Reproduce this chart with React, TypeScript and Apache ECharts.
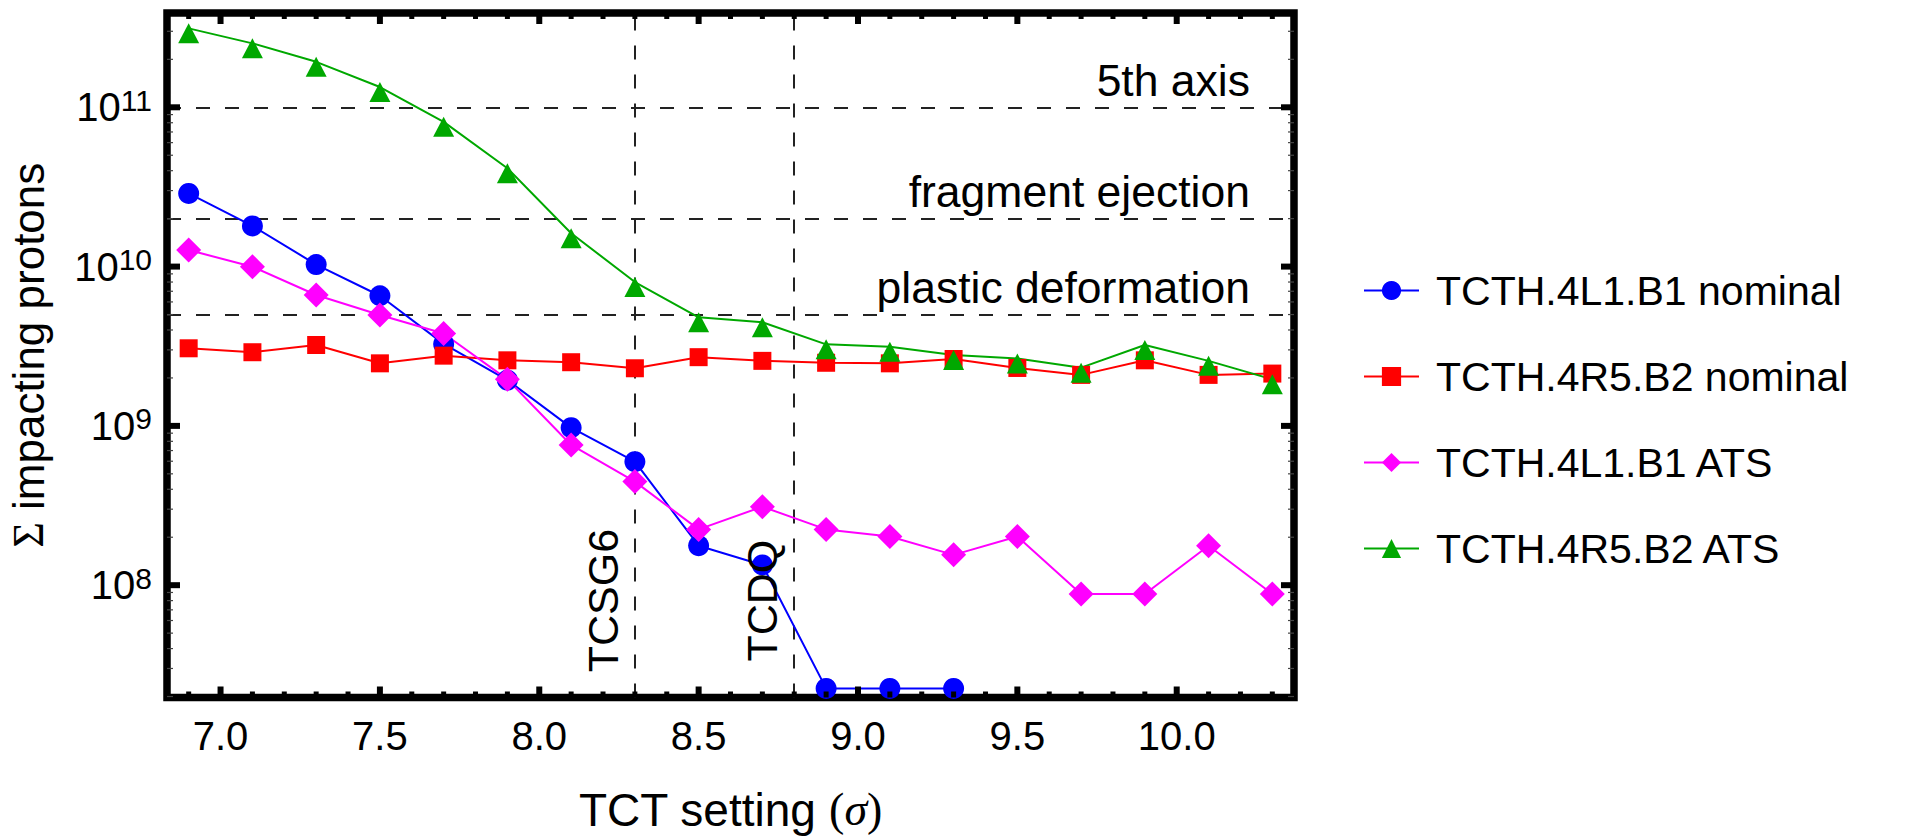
import React, { useEffect, useRef } from 'react';
import * as echarts from 'echarts';

// ---------------- data ----------------
const xSettings = [6.9, 7.1, 7.3, 7.5, 7.7, 7.9, 8.1, 8.3, 8.5, 8.7, 8.9, 9.1, 9.3, 9.5, 9.7, 9.9, 10.1, 10.3];

const b1Nominal = [2.88e10, 1.8e10, 1.03e10, 6.56e9, 3.27e9, 1.94e9, 9.75e8, 5.96e8, 1.77e8, 1.34e8, 2.25e7, 2.25e7, 2.25e7];
const b2Nominal = [3.07e9, 2.9e9, 3.22e9, 2.47e9, 2.76e9, 2.58e9, 2.51e9, 2.3e9, 2.7e9, 2.56e9, 2.49e9, 2.47e9, 2.63e9, 2.31e9, 2.09e9, 2.58e9, 2.09e9, 2.13e9];
const b1Ats = [1.27e10, 9.98e9, 6.63e9, 4.97e9, 3.8e9, 1.96e9, 7.59e8, 4.47e8, 2.24e8, 3.11e8, 2.24e8, 2.02e8, 1.55e8, 2.02e8, 8.8e7, 8.8e7, 1.77e8, 8.8e7];
const b2Ats = [3.13e11, 2.52e11, 1.93e11, 1.34e11, 8.1e10, 4.14e10, 1.62e10, 8.0e9, 4.8e9, 4.47e9, 3.25e9, 3.14e9, 2.79e9, 2.65e9, 2.32e9, 3.22e9, 2.56e9, 1.96e9];

const seriesNames = ['TCTH.4L1.B1 nominal', 'TCTH.4R5.B2 nominal', 'TCTH.4L1.B1 ATS', 'TCTH.4R5.B2 ATS'];

const thresholdValues = [1e11, 2e10, 5e9];
const thresholdLabels = ['5th axis', 'fragment ejection', 'plastic deformation'];
const collimatorSettings = [8.3, 8.8];
const collimatorLabels = ['TCSG6', 'TCDQ'];
const collimatorLabelLevel = 8e7;

const xTickLabels = [7.0, 7.5, 8.0, 8.5, 9.0, 9.5, 10.0];
const xMinorTicks = [6.9, 7.1, 7.2, 7.3, 7.4, 7.6, 7.7, 7.8, 7.9, 8.1, 8.2, 8.3, 8.4, 8.6, 8.7, 8.8, 8.9, 9.1, 9.2, 9.3, 9.4, 9.6, 9.7, 9.8, 9.9, 10.1, 10.2, 10.3];
const yTickLabels = [1e8, 1e9, 1e10, 1e11];
const yMinorMantissas = [2, 3, 4, 5, 6, 7, 8, 9];
const yMinorDecades = [7, 8, 9, 10, 11];

const X_MIN = 6.832;
const X_MAX = 10.368;
const Y_MIN = 1.972e7;
const Y_MAX = 3.908e11;

const FONT = '"Liberation Sans", Arial, Helvetica, sans-serif';
const SERIF = '"Liberation Serif", "Times New Roman", serif';

const yMinorTicks = yMinorDecades
  .flatMap((d) => yMinorMantissas.map((m) => m * Math.pow(10, d)))
  .filter((v) => v >= Y_MIN && v <= Y_MAX);

function pairs(values: number[]) {
  return values.map((v, i) => [xSettings[i], v]);
}

export default function App() {
  const ref = useRef<HTMLDivElement>(null);

  useEffect(() => {
    if (!ref.current) return;
    const chart = echarts.init(ref.current, null, { renderer: 'svg' });

    const dashed = { color: '#222', width: 2, type: [14, 15] as any };

    const lineSeries = (name: string, values: number[], color: string, symbol: string, size: any, extra: any = {}) => ({
      type: 'line',
      name,
      data: pairs(values),
      symbol,
      symbolSize: size,
      showSymbol: true,
      color,
      itemStyle: { color },
      lineStyle: { color, width: 2 },
      z: 3,
      ...extra,
    });

    const option: any = {
      animation: false,
      backgroundColor: '#fff',
      textStyle: { fontFamily: FONT },
      grid: {
        left: 167,
        top: 13,
        width: 1127,
        height: 684.5,
        show: true,
        borderColor: '#000',
        borderWidth: 7.5,
        backgroundColor: 'transparent',
        containLabel: false,
        outerBoundsMode: 'none',
      },
      legend: {
        orient: 'vertical',
        left: 1358,
        top: 265,
        itemWidth: 55,
        itemHeight: 24,
        itemGap: 45,
        data: seriesNames,
        textStyle: { fontSize: 41, color: '#000', fontFamily: FONT, padding: [0, 0, 0, 12] },
      },
      xAxis: {
        type: 'value',
        min: X_MIN,
        max: X_MAX,
        axisLine: { show: false },
        axisTick: { show: false },
        splitLine: { show: false },
        axisLabel: {
          customValues: xTickLabels,
          formatter: (v: number) => v.toFixed(1),
          fontSize: 40,
          color: '#000',
          margin: 18,
          fontFamily: FONT,
        },
        name: '{t|TCT setting }{p|(}{g|σ}{p|)}',
        nameLocation: 'middle',
        nameGap: 89,
        nameMoveOverlap: false,
        nameTextStyle: {
          color: '#000',
          fontSize: 46,
          rich: {
            t: { fontSize: 46, fontFamily: FONT, color: '#000' },
            p: { fontSize: 46, fontFamily: SERIF, color: '#000' },
            g: { fontSize: 46, fontFamily: SERIF, fontStyle: 'italic', color: '#000' },
          },
        },
      },
      yAxis: {
        type: 'log',
        logBase: 10,
        min: Y_MIN,
        max: Y_MAX,
        axisLine: { show: false },
        axisTick: { show: false },
        splitLine: { show: false },
        minorTick: { show: false },
        axisLabel: {
          showMinLabel: false,
          showMaxLabel: false,
          margin: 15,
          color: '#000',
          formatter: (v: number) => {
            const l = Math.log10(v);
            const e = Math.round(l);
            if (Math.abs(l - e) > 1e-6) return '';
            return '{b|10}{s|' + e + '}';
          },
          rich: {
            b: { fontSize: 40, lineHeight: 44, fontFamily: FONT, color: '#000' },
            s: { fontSize: 30, lineHeight: 34, fontFamily: FONT, color: '#000', verticalAlign: 'top' },
          },
        },
        name: '{g|Σ}{t| impacting protons}',
        nameLocation: 'middle',
        nameGap: 117,
        nameMoveOverlap: false,
        nameTextStyle: {
          color: '#000',
          fontSize: 44,
          rich: {
            t: { fontSize: 44, fontFamily: FONT, color: '#000' },
            g: { fontSize: 44, fontFamily: SERIF, color: '#000' },
          },
        },
      },
      series: [
        lineSeries(seriesNames[0], b1Nominal, '#0000ff', 'circle', 21, {
          markLine: {
            silent: true,
            symbol: ['none', 'none'],
            label: { show: false },
            lineStyle: dashed,
            z: 1,
            data: [
              ...thresholdValues.map((v) => ({ yAxis: v })),
              ...collimatorSettings.map((x) => ({ xAxis: x })),
            ],
          },
        }),
        lineSeries(seriesNames[1], b2Nominal, '#ff0000', 'rect', 18),
        lineSeries(seriesNames[2], b1Ats, '#ff00ff', 'diamond', 25),
        lineSeries(seriesNames[3], b2Ats, '#00a800', 'triangle', [21, 20], { symbolOffset: [0, 5] }),
        // threshold labels
        {
          type: 'custom',
          name: 'thresholdLabels',
          silent: true,
          data: thresholdValues.map((v, i) => [X_MAX, v, i]),
          renderItem: (params: any, api: any) => {
            const p = api.coord([api.value(0), api.value(1)]);
            return {
              type: 'text',
              x: p[0] - 44,
              y: p[1] - 27,
              style: {
                text: thresholdLabels[api.value(2)],
                fill: '#000',
                fontSize: 44.5,
                fontFamily: FONT,
                align: 'right',
                verticalAlign: 'middle',
              },
            };
          },
          z: 4,
        },
        // collimator labels
        {
          type: 'custom',
          name: 'collimatorLabels',
          silent: true,
          data: collimatorSettings.map((x, i) => [x, collimatorLabelLevel, i]),
          renderItem: (params: any, api: any) => {
            const p = api.coord([api.value(0), api.value(1)]);
            return {
              type: 'text',
              x: p[0] - 32,
              y: p[1],
              rotation: Math.PI / 2,
              style: {
                text: collimatorLabels[api.value(2)],
                fill: '#000',
                fontSize: 43,
                fontFamily: FONT,
                align: 'center',
                verticalAlign: 'middle',
              },
            };
          },
          z: 4,
        },
        // x ticks (bottom and top)
        {
          type: 'custom',
          name: 'xTicks',
          silent: true,
          data: [
            ...xTickLabels.map((v) => [v, Y_MIN, 1]),
            ...xMinorTicks.map((v) => [v, Y_MIN, 0]),
          ],
          renderItem: (params: any, api: any) => {
            const cs = params.coordSys;
            const x = api.coord([api.value(0), api.value(1)])[0];
            const major = api.value(2) === 1;
            const len = major ? 11 : 6;
            const w = major ? 6 : 5;
            const bottom = cs.y + cs.height;
            const style = { stroke: '#000', lineWidth: w };
            return {
              type: 'group',
              children: [
                { type: 'line', shape: { x1: x, y1: bottom, x2: x, y2: bottom - len }, style },
                { type: 'line', shape: { x1: x, y1: cs.y, x2: x, y2: cs.y + len }, style },
              ],
            };
          },
          z: 5,
        },
        // y ticks (left and right)
        {
          type: 'custom',
          name: 'yTicks',
          silent: true,
          data: [
            ...yTickLabels.map((v) => [X_MIN, v, 1]),
            ...yMinorTicks.map((v) => [X_MIN, v, 0]),
          ],
          renderItem: (params: any, api: any) => {
            const cs = params.coordSys;
            const y = api.coord([api.value(0), api.value(1)])[1];
            const major = api.value(2) === 1;
            const len = major ? 13 : 6;
            const w = major ? 6 : 1.2;
            const right = cs.x + cs.width;
            const style = { stroke: major ? '#000' : '#444', lineWidth: w };
            return {
              type: 'group',
              children: [
                { type: 'line', shape: { x1: cs.x, y1: y, x2: cs.x + len, y2: y }, style },
                { type: 'line', shape: { x1: right, y1: y, x2: right - len, y2: y }, style },
              ],
            };
          },
          z: 5,
        },
      ],
    };

    chart.setOption(option);
    return () => chart.dispose();
  }, []);

  return (
    <div
      ref={ref}
      style={{ position: 'fixed', left: 0, top: 0, width: '1909px', height: '840px', background: '#fff' }}
    />
  );
}
